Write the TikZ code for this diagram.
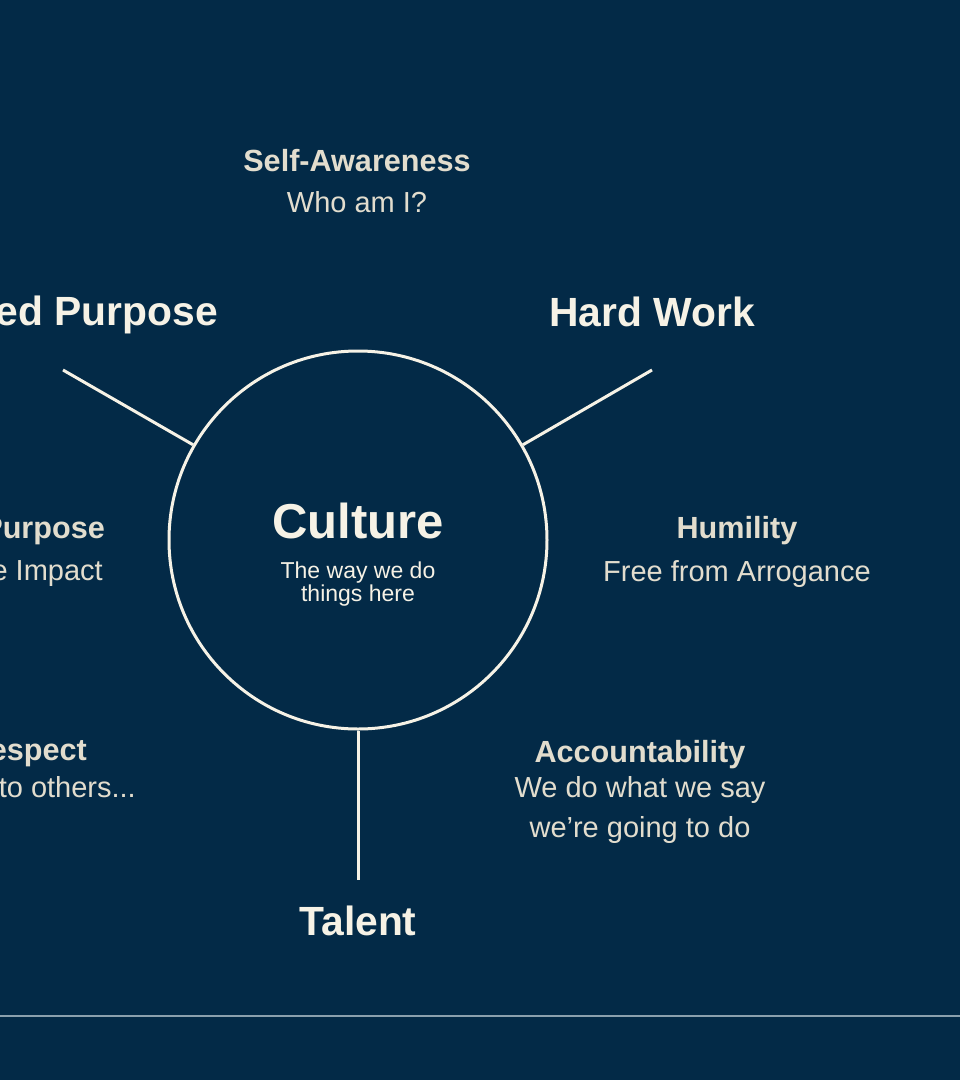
\documentclass[tikz,border=0pt]{standalone}
\usepackage{fontspec}
\setmainfont{Liberation Sans}
\definecolor{bg}{HTML}{032A47}
\definecolor{cream}{HTML}{F6F2E6}
\definecolor{soft}{HTML}{E2DDCE}
\definecolor{rule}{HTML}{8BA0AD}
\tikzset{
  x=1pt,y=1pt,
  big/.style={text=cream,font=\fontsize{40.8}{44}\selectfont\bfseries,inner sep=0pt,anchor=base},
  head/.style={text=soft,font=\fontsize{30.6}{34}\selectfont\bfseries,inner sep=0pt,anchor=base},
  sub/.style={text=soft,font=\fontsize{29}{34}\selectfont,inner sep=0pt,anchor=base},
  inner/.style={text=cream,font=\fontsize{23}{23}\selectfont,inner sep=0pt,anchor=base},
  spoke/.style={draw=cream,line width=3pt},
}
\begin{document}
\begin{tikzpicture}
\useasboundingbox (0,0) rectangle (960,-1080);
\fill[bg] (0,0) rectangle (960,-1080);
\clip (0,0) rectangle (960,-1080);
\node[circle,draw=cream,line width=3pt,minimum size=378pt,inner sep=0pt] (c) at (358,-540) {};
\node[text=cream,font=\fontsize{49}{52}\selectfont\bfseries,inner sep=0pt,anchor=base] (cul) at (358,-538) {Culture};
\node[inner] (way1) at (358,-578) {The way we do};
\node[inner] (way2) at (358,-601) {things here};
\node[head] (sa) at (357,-171) {Self-Awareness};
\node[sub] (who) at (357,-212) {Who am I?};
\node[big,anchor=base east] (sp) at (218,-325) {ed Purpose};
\node[big] (hw) at (652,-326) {Hard Work};
\node[big] (tal) at (358,-935) {Talent};
\node[head,anchor=base east] (pu) at (105,-538) {Purpose};
\node[sub,anchor=base east] (im) at (103,-580) {e Impact};
\node[head] (hu) at (737,-538) {Humility};
\node[sub] (fr) at (737,-581) {Free from Arrogance};
\node[head,anchor=base east] (re) at (87,-760) {espect};
\node[sub,anchor=base east] (to) at (136,-797) {to others...};
\node[head] (ac) at (640,-762) {Accountability};
\node[sub] (we1) at (640,-797) {We do what we say};
\node[sub] (we2) at (640,-837) {we’re going to do};
\coordinate (l1) at (63,-370);
\coordinate (r1) at (652,-370);
\coordinate (b1) at (358,-880);
\draw[spoke] (c.150) -- (l1);
\draw[spoke] (c.30) -- (r1);
\draw[spoke] (c.south) -- (b1);
\coordinate (hl) at (0,-1016);
\coordinate (hr) at (960,-1016);
\draw[rule,line width=2pt] (hl) -- (hr);
\end{tikzpicture}
\end{document}
